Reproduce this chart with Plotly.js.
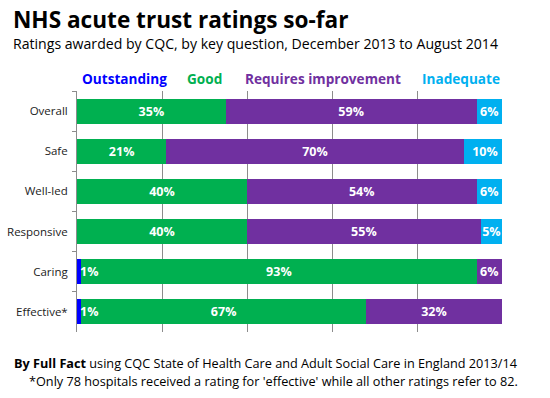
<!DOCTYPE html>
<html>
<head>
<meta charset="utf-8">
<script src="https://cdn.plot.ly/plotly-3.0.1.min.js"></script>
<style>html,body{margin:0;padding:0;background:#fff;}#chart{width:550px;height:398px;}</style>
</head>
<body>
<div id="chart"></div>
<script>
var categories = ["Overall", "Safe", "Well-led", "Responsive", "Caring", "Effective*"];
var seriesNames = ["Outstanding", "Good", "Requires improvement", "Inadequate"];
var outstanding = [0, 0, 0, 0, 1, 1];
var good = [35, 21, 40, 40, 93, 67];
var requiresImprovement = [59, 70, 54, 55, 6, 32];
var inadequate = [6, 10, 6, 5, 0, 0];
var xTicks = [0, 20, 40, 60, 80, 100];

var colors = ["#0000ff", "#00b050", "#7030a0", "#00b0f0"];
var FONT = "Open Sans, sans-serif";
var seriesValues = [outstanding, good, requiresImprovement, inadequate];

var W = 550, H = 398, mL = 77, mR = 48, mT = 91, mB = 66;
var pw = W - mL - mR, ph = H - mT - mB;
function px(x) { return (x - mL) / pw; }
function py(y) { return 1 - (y - mT) / ph; }

var traces = seriesValues.map(function (vals, i) {
  return {
    type: "bar",
    orientation: "h",
    name: seriesNames[i],
    y: categories,
    x: vals,
    marker: {color: colors[i], line: {width: 0}},
    text: vals.map(function (v) { return (i > 0 && v > 0) ? v + "%" : ""; }),
    textposition: "inside",
    insidetextanchor: "middle",
    textangle: 0,
    constraintext: "none",
    textfont: {family: FONT, size: 12.5, color: "#ffffff", weight: "bold"},
    hoverinfo: "skip",
    showlegend: false
  };
});

var annotations = [];
// small "Outstanding" labels
outstanding.forEach(function (v, j) {
  if (v > 0) {
    annotations.push({
      x: 0, y: categories[j], xref: "x", yref: "y",
      text: "<b>" + v + "%</b>", showarrow: false,
      xanchor: "left", xshift: 1,
      font: {family: FONT, size: 12.5, color: "#ffffff"}
    });
  }
});
// legend as coloured text
var legendX = [px(80), px(185), px(243), px(502)];
var legendAnchor = ["left", "left", "left", "right"];
seriesNames.forEach(function (n, i) {
  annotations.push({
    x: legendX[i], y: py(79), xref: "paper", yref: "paper", yanchor: "middle",
    text: "<b>" + n + "</b>", showarrow: false, xanchor: legendAnchor[i],
    font: {family: FONT, size: 13.6, color: colors[i]}
  });
});
annotations.push({
  x: px(11), y: py(20), xref: "paper", yref: "paper", text: "<b>NHS acute trust ratings so-far</b>",
  showarrow: false, xanchor: "left", yanchor: "middle",
  font: {family: FONT, size: 22.6, color: "#000"}
});
annotations.push({
  x: px(11), y: py(43), xref: "paper", yref: "paper",
  text: "Ratings awarded by CQC, by key question, December 2013 to August 2014",
  showarrow: false, xanchor: "left", yanchor: "middle",
  font: {family: FONT, size: 14.1, color: "#000"}
});
annotations.push({
  x: px(520), y: py(363), xref: "paper", yref: "paper",
  text: "<b>By Full Fact</b> using CQC State of Health Care and Adult Social Care in England 2013/14",
  showarrow: false, xanchor: "right", yanchor: "middle",
  font: {family: FONT, size: 12.7, color: "#000"}
});
annotations.push({
  x: px(520), y: py(381), xref: "paper", yref: "paper",
  text: "*Only 78 hospitals received a rating for 'effective' while all other ratings refer to 82.",
  showarrow: false, xanchor: "right", yanchor: "middle",
  font: {family: FONT, size: 12.7, color: "#000"}
});

var layout = {
  width: W, height: H,
  margin: {l: mL, r: mR, t: mT, b: mB, pad: 0},
  paper_bgcolor: "#fff", plot_bgcolor: "#fff",
  barmode: "stack", bargap: 0.375,
  showlegend: false,
  font: {family: FONT, size: 12, color: "#222"},
  xaxis: {
    range: [0, 100], tickvals: xTicks, showticklabels: false,
    showgrid: true, gridcolor: "#8c8c8c", gridwidth: 1,
    zeroline: false, showline: false, ticks: "", fixedrange: true
  },
  yaxis: {
    autorange: "reversed", tickson: "boundaries", ticks: "outside", ticklen: 4,
    tickcolor: "#8c8c8c", showline: true, linecolor: "#8c8c8c", linewidth: 1,
    showgrid: false, ticklabelstandoff: 6,
    tickfont: {family: FONT, size: 11.5, color: "#222"}, fixedrange: true
  },
  annotations: annotations
};

Plotly.newPlot("chart", traces, layout, {displayModeBar: false, staticPlot: true});
</script>
</body>
</html>
